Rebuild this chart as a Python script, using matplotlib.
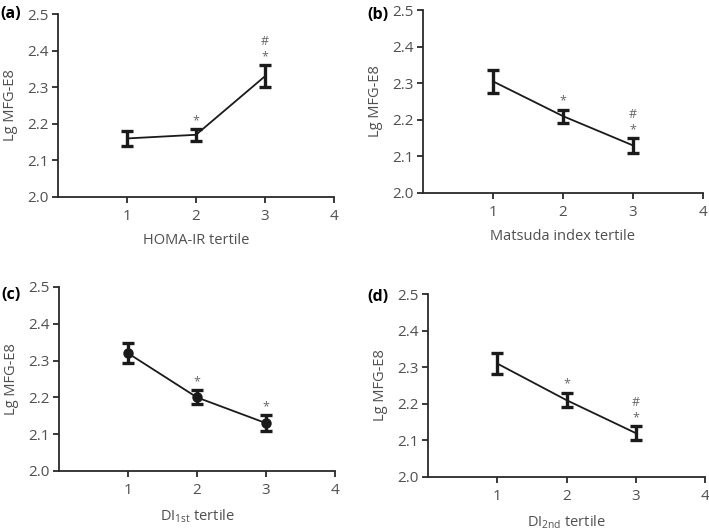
import matplotlib
matplotlib.use("Agg")
import matplotlib.pyplot as plt

plt.rcParams['font.family'] = ['Open Sans', 'DejaVu Sans']
plt.rcParams['mathtext.fontset'] = 'custom'
plt.rcParams['mathtext.rm'] = 'Open Sans'

tertiles = [1, 2, 3]
xticks = [1, 2, 3, 4]
yticks = [2.0, 2.1, 2.2, 2.3, 2.4, 2.5]

homa_mean = [2.16, 2.17, 2.33]
homa_err = [0.02, 0.016, 0.03]
homa_sig = ['', '*', '#\n*']

matsuda_mean = [2.305, 2.21, 2.13]
matsuda_err = [0.032, 0.018, 0.02]
matsuda_sig = ['', '*', '#\n*']

di1_mean = [2.32, 2.20, 2.13]
di1_err = [0.027, 0.019, 0.021]
di1_sig = ['', '*', '*']

di2_mean = [2.31, 2.21, 2.12]
di2_err = [0.028, 0.02, 0.019]
di2_sig = ['', '*', '#\n*']

panels = [
    ('(a)', 'HOMA-IR tertile', homa_mean, homa_err, homa_sig, False,
     [58, 14, 334, 197], (0, 14)),
    ('(b)', 'Matsuda index tertile', matsuda_mean, matsuda_err, matsuda_sig, False,
     [423, 10, 703, 193], (367, 15)),
    ('(c)', r'DI$_{\mathregular{1st}}$ tertile', di1_mean, di1_err, di1_sig, True,
     [59, 287, 335, 471], (1, 295)),
    ('(d)', r'DI$_{\mathregular{2nd}}$ tertile', di2_mean, di2_err, di2_sig, False,
     [428, 294, 705, 477], (367, 297)),
]

W, H = 709, 532
fig = plt.figure(figsize=(W / 100, H / 100), dpi=100)
gray = '#505050'

for tag, xlabel, mean, err, sig, marker, box, tagpos in panels:
    l, t, r, b = box
    ax = fig.add_axes([l / W, 1 - b / H, (r - l) / W, (b - t) / H])
    ax.errorbar(tertiles, mean, yerr=err, color='#1a1a1a', lw=1.3,
                elinewidth=2.4, capsize=4, capthick=2.4,
                marker='o' if marker else None, ms=6.5)
    for x, m, e, s in zip(tertiles, mean, err, sig):
        if s:
            ax.annotate(s, (x, m + e), xytext=(0, 1.5), textcoords='offset points',
                        ha='center', va='bottom', fontsize=9, color='#666666',
                        linespacing=1.25)
    ax.set_xlim(0, 4)
    ax.set_ylim(2.0, 2.5)
    ax.set_xticks(xticks)
    ax.set_yticks(yticks)
    ax.set_yticklabels([f'{v:.1f}' for v in yticks])
    for sp in ('top', 'right'):
        ax.spines[sp].set_visible(False)
    for sp in ('left', 'bottom'):
        ax.spines[sp].set_linewidth(1.3)
        ax.spines[sp].set_color('#2a2a2a')
    ax.tick_params(direction='out', length=4, width=1.3, color='#2a2a2a',
                   labelsize=11, labelcolor=gray)
    ax.tick_params(axis='y', pad=2.5)
    ax.tick_params(axis='x', pad=5)
    ax.set_xlabel(xlabel, fontsize=10.5, color=gray, labelpad=6)
    ax.set_ylabel('Lg MFG-E8', fontsize=10.5, color=gray, labelpad=7)
    fig.text(tagpos[0] / W, 1 - tagpos[1] / H, tag, fontsize=11.5,
             fontweight='bold', color='black', ha='left', va='center')

fig.savefig('out.png', dpi=100)
